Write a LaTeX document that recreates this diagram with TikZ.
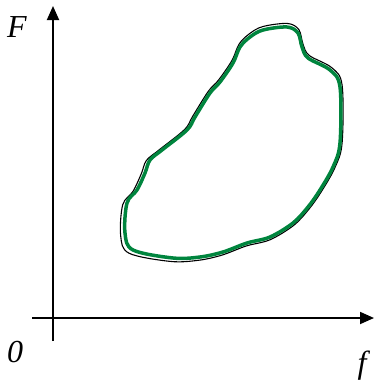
\documentclass[tikz,border=0pt]{standalone}
\usepackage{fontspec}
\setmainfont{Liberation Serif}
\usetikzlibrary{arrows.meta}
\definecolor{loopgreen}{RGB}{0,133,62}

\tikzset{
  axis/.style={line width=1.8pt, -{Triangle[length=14pt,width=12pt]}},
  axislabel/.style={font=\fontsize{32}{34}\selectfont\itshape, inner sep=0pt},
}

\begin{document}
\begin{tikzpicture}[x=1pt,y=-1pt]
  \useasboundingbox (0,0) rectangle (379,383);
  % axes
  \coordinate (xstart) at (32,318);
  \coordinate (xend) at (374,318);
  \coordinate (ystart) at (53,341);
  \coordinate (yend) at (53,6);
  \draw[axis] (xstart) -- (xend);
  \draw[axis] (ystart) -- (yend);
  \node[axislabel] (labF) at (17,27) {F};
  \node[axislabel] (lab0) at (15,352) {0};
  \node[axislabel] (labf) at (362,366) {f};
  % outer (black) loop
  \begin{scope}[shift={(235,145)}, scale=1.03, shift={(-236,-145)}]
    \draw[line width=1.1pt, black] plot[smooth cycle, tension=0.55] coordinates {
      (263,30) (287,27) (298,33) (302,47) (308,58) (330,70) (340,87)
      (340,143) (333,167) (320,190) (308,207) (293,223) (270,237)
      (247,243) (223,252) (200,257) (173,258) (133,250) (125,233)
      (127,203) (137,190) (145,173) (150,160) (162,150) (187,130)
      (195,117) (210,93) (220,82) (233,63) (240,47) (250,37)};
  \end{scope}
  % inner (green) loop
  \draw[line width=3.5pt, loopgreen] plot[smooth cycle, tension=0.55] coordinates {
    (263,30) (287,27) (298,33) (302,47) (308,58) (330,70) (340,87)
    (340,143) (333,167) (320,190) (308,207) (293,223) (270,237)
    (247,243) (223,252) (200,257) (173,258) (133,250) (125,233)
    (127,203) (137,190) (145,173) (150,160) (162,150) (187,130)
    (195,117) (210,93) (220,82) (233,63) (240,47) (250,37)};
\end{tikzpicture}
\end{document}
